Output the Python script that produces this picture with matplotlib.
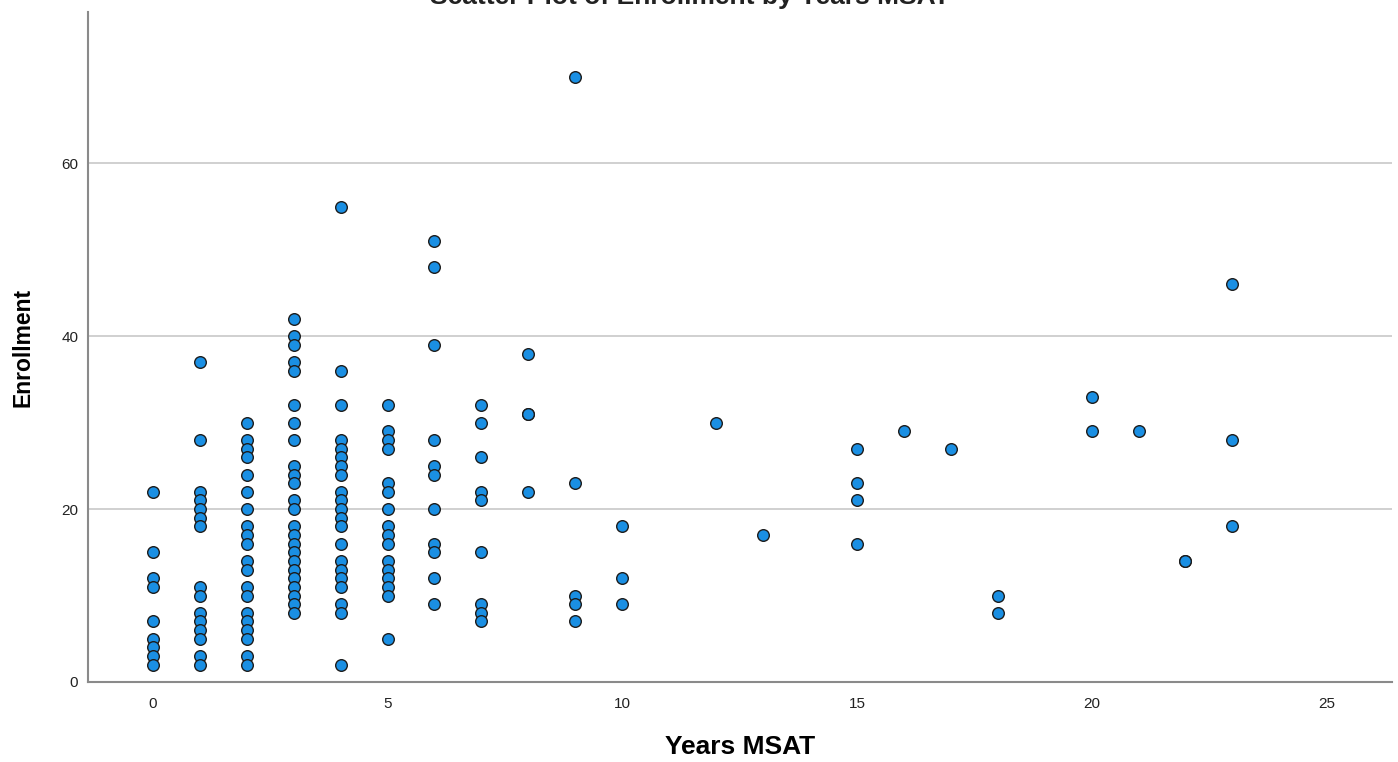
import matplotlib.pyplot as plt

plt.rcParams['font.family'] = ['Liberation Sans', 'DejaVu Sans']

# enrollment values grouped by years MSAT
enroll_by_years = {
    0: [22, 15, 12, 11, 7, 5, 4, 3, 2],
    1: [37, 28, 22, 21, 20, 19, 18, 11, 10, 8, 7, 6, 5, 3, 2],
    2: [30, 28, 27, 26, 24, 22, 20, 18, 17, 16, 14, 13, 11, 10, 8, 7, 6, 5, 3, 2],
    3: [42, 40, 39, 37, 36, 32, 30, 28, 25, 24, 23, 21, 20, 18, 17, 16, 15,
        14, 13, 12, 11, 10, 9, 8],
    4: [55, 36, 32, 28, 27, 26, 25, 24, 22, 21, 20, 19, 18, 16, 14, 13, 12,
        11, 9, 8, 2],
    5: [32, 29, 28, 27, 23, 22, 20, 18, 17, 16, 14, 13, 12, 11, 10, 5],
    6: [51, 48, 39, 28, 25, 24, 20, 16, 15, 12, 9],
    7: [32, 30, 26, 22, 21, 15, 9, 8, 7],
    8: [38, 31, 31, 22],
    9: [70, 23, 10, 9, 7],
    10: [18, 12, 9],
    12: [30],
    13: [17],
    15: [27, 23, 21, 16],
    16: [29],
    17: [27],
    18: [10, 8],
    20: [33, 29],
    21: [29],
    22: [14, 14],
    23: [46, 28, 18],
}

years = []
enrollment = []
for yr, vals in enroll_by_years.items():
    for v in vals:
        years.append(yr)
        enrollment.append(v)

fig = plt.figure(figsize=(13.98, 7.62), dpi=100)
ax = fig.add_axes([0.063, 0.105, 0.9327, 0.879])

ax.scatter(years, enrollment, s=70, c='#1a8fe3', edgecolors='#1c1c1c',
           linewidths=1.0, zorder=3)

ax.set_xlim(-1.38, 26.4)
ax.set_ylim(0, 77.5)
ax.set_xticks([0, 5, 10, 15, 20, 25])
ax.set_yticks([0, 20, 40, 60])
ax.tick_params(axis='both', length=0, labelsize=11, colors='#222222')
ax.tick_params(axis='x', pad=11)
ax.tick_params(axis='y', pad=7)

for v in [20, 40, 60]:
    ax.axhline(v, color='#c8c8c8', linewidth=1.2, zorder=1)

for side in ['top', 'right']:
    ax.spines[side].set_visible(False)
for side in ['left', 'bottom']:
    ax.spines[side].set_color('#8a8a8a')
    ax.spines[side].set_linewidth(1.5)

ax.set_xlabel('Years MSAT', fontsize=19, fontweight='bold', labelpad=17)
ax.set_ylabel('Enrollment', fontsize=16.5, fontweight='bold', labelpad=19)

# title sits mostly above the top edge, as in the source image
fig.text(0.4936, 0.9948, 'Scatter Plot of Enrollment by Years MSAT', ha='center',
         va='baseline', fontsize=19, fontweight='bold', color='#222222')

fig.savefig('out.png', dpi=100)
